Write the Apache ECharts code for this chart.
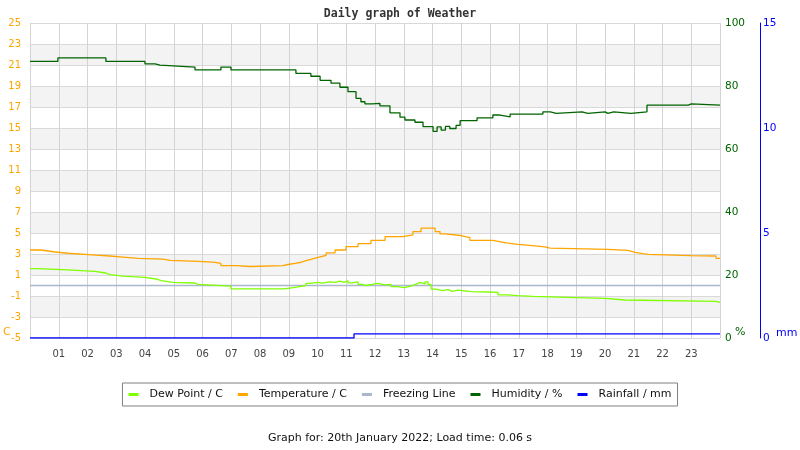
<!DOCTYPE html>
<html><head><meta charset="utf-8">
<script src="https://cdn.jsdelivr.net/npm/echarts@6/dist/echarts.min.js"></script>
<style>html,body{margin:0;padding:0;background:#fff}#c{width:800px;height:450px}</style>
</head><body><div id="c"></div>
<script>
// [hour, value]
const tempData = [[0,3.38],[0.38,3.19],[0.87,3.07],[1.32,2.9],[2.30,2.81],[2.78,2.71],[3.23,2.59],[3.76,2.52],[4.63,2.4],[4.87,2.30],[5.84,2.25],[6.19,2.21],[6.43,2.1],[6.64,1.90],[7.17,1.81],[7.65,1.90],[8.80,2.0],[8.97,2.1],[9.22,2.19],[9.39,2.36],[9.60,2.49],[9.77,2.68],[10.02,2.87],[10.30,3.1],[10.61,3.38],[10.99,3.70],[11.41,3.98],[11.86,4.3],[12.35,4.65],[12.97,4.83],[13.32,5.14],[13.60,5.46],[14.09,5.14],[14.26,4.92],[14.43,4.76],[14.99,4.57],[15.30,4.3],[16.10,4.21],[16.28,4.05],[16.56,3.92],[16.97,3.83],[17.39,3.67],[17.91,3.55],[18.09,3.45],[20.10,3.35],[20.80,3.16],[21.04,3.03],[21.32,2.97],[21.50,2.84],[22.99,2.81],[23.86,2.59],[24,2.59]];
const dewData = [[0,1.60],[0.28,1.48],[1.32,1.35],[2.26,1.19],[2.64,1.03],[2.78,0.90],[3.23,0.78],[4.0,0.62],[4.38,0.46],[4.56,0.30],[4.97,0.24],[5.74,0.11],[5.84,-0.05],[6.99,-0.33],[8.80,-0.24],[9.04,-0.14],[9.32,-0.02],[9.60,0.2],[9.74,0.3],[10.02,0.22],[10.16,0.35],[10.43,0.3],[10.61,0.42],[10.78,0.3],[10.92,0.45],[11.06,0.25],[11.2,0.35],[11.41,0.1],[11.55,0.0],[11.69,0.1],[11.9,0.2],[12.1,0.05],[12.35,0.1],[12.56,-0.11],[12.8,-0.2],[13.01,-0.05],[13.25,0.14],[13.43,0.3],[13.57,0.15],[13.74,0.35],[13.84,0.1],[13.95,-0.35],[14.12,-0.49],[14.33,-0.4],[14.54,-0.55],[14.68,-0.45],[14.89,-0.59],[15.34,-0.62],[15.93,-0.65],[16.28,-0.9],[16.63,-0.97],[16.97,-1.03],[17.50,-1.22],[20.0,-1.38],[20.70,-1.51],[23.86,-1.6],[24,-1.6]];
const freezeData = [[0,0],[24,0]];
const humData = [[0,87.8],[0.97,88.9],[2.64,87.8],[4.0,87.0],[4.35,86.6],[4.52,86.0],[5.74,85.1],[6.64,86.0],[6.99,85.1],[9.25,84.0],[9.77,83.1],[10.09,81.8],[10.47,80.9],[10.78,79.6],[11.06,78.2],[11.34,76.1],[11.51,75.0],[11.65,74.3],[11.9,74.5],[12.17,73.7],[12.52,71.5],[12.87,70.1],[13.04,69.2],[13.39,68.5],[13.67,67.1],[14.02,65.6],[14.16,67.0],[14.3,66.0],[14.45,67.2],[14.6,66.5],[14.82,67.5],[14.96,69.0],[15.55,69.9],[16.10,70.8],[16.3,70.2],[16.70,71.1],[17.84,71.8],[18.1,71.3],[18.3,71.8],[19.2,71.3],[19.4,71.8],[20.0,71.3],[20.1,71.8],[20.3,71.3],[20.9,71.8],[21.46,73.9],[22.9,74.3],[23.0,73.9],[24,73.9]];
const rainData = [[0,0],[11.27,0.2],[24,0.2]];
const hourTicks = ['01','02','03','04','05','06','07','08','09','10','11','12','13','14','15','16','17','18','19','20','21','22','23'];

const chart = echarts.init(document.getElementById('c'), null, {renderer:'canvas'});
const font = 'DejaVu Sans';
const lw = 1.3;
chart.setOption({
  animation:false,
  backgroundColor:'#fff',
  title:{text:'Daily graph of Weather',left:'center',top:3,textStyle:{fontFamily:'DejaVu Sans Mono',fontWeight:'bold',fontSize:11.5,color:'#333'}},
  legend:{
    top:383,left:'center',
    data:['Dew Point / C','Temperature / C','Freezing Line','Humidity / %','Rainfall / mm'],
    icon:'rect',itemWidth:10,itemHeight:3,itemGap:15,
    borderColor:'#808080',borderWidth:1,padding:[6,6,6,6],
    textStyle:{fontFamily:font,fontSize:11,color:'#111',padding:[0,0,0,6]}
  },
  grid:{left:30,right:80,top:23,bottom:112},
  xAxis:{type:'value',min:0,max:24,interval:1,
    axisLine:{show:false},axisTick:{show:false},
    axisLabel:{fontFamily:font,fontSize:10,color:'#444',margin:11,
      formatter:v=> (v>0&&v<24)? hourTicks[v-1] : ''},
    splitLine:{lineStyle:{color:'#d3d3d3'}}},
  yAxis:[
    {type:'value',min:-5,max:25,interval:2,position:'left',
     axisLine:{show:false},axisTick:{show:false},
     axisLabel:{fontFamily:font,fontSize:10,color:'#ffa500',margin:9},
     splitLine:{lineStyle:{color:'#d9d9d9'}},
     splitArea:{show:true,areaStyle:{color:['#ffffff','#f3f3f3']}}},
    {type:'value',min:0,max:100,interval:20,position:'right',
     axisLine:{show:false},axisTick:{show:false},
     axisLabel:{fontFamily:font,fontSize:10.5,color:'#006400',margin:5},
     splitLine:{show:false}},
    {type:'value',min:0,max:15,interval:5,position:'right',offset:40,
     axisLine:{show:true,onZero:false,lineStyle:{color:'#0000ff',width:1}},axisTick:{show:false},
     axisLabel:{fontFamily:font,fontSize:10.5,color:'#0000ff',margin:3},
     splitLine:{show:false}}
  ],
  series:[
    {name:'Freezing Line',type:'line',data:freezeData,yAxisIndex:0,symbol:'none',lineStyle:{width:lw,color:'#a9b8cc'},itemStyle:{color:'#a9b8cc'}},
    {name:'Dew Point / C',type:'line',step:'end',data:dewData,yAxisIndex:0,symbol:'none',lineStyle:{width:lw,color:'#7fff00'},itemStyle:{color:'#7fff00'}},
    {name:'Temperature / C',type:'line',step:'end',data:tempData,yAxisIndex:0,symbol:'none',lineStyle:{width:lw,color:'#ffa500'},itemStyle:{color:'#ffa500'}},
    {name:'Humidity / %',type:'line',step:'end',data:humData,yAxisIndex:1,symbol:'none',lineStyle:{width:lw,color:'#006400'},itemStyle:{color:'#006400'}},
    {name:'Rainfall / mm',type:'line',step:'end',data:rainData,yAxisIndex:2,symbol:'none',lineStyle:{width:lw,color:'#0000ff'},itemStyle:{color:'#0000ff'}}
  ],
  graphic:[
    {type:'text',left:3,top:327,style:{text:'C',fontFamily:font,fontSize:11,fill:'#ffa500'}},
    {type:'text',left:735,top:327,style:{text:'%',fontFamily:font,fontSize:11,fill:'#006400'}},
    {type:'text',left:776,top:328,style:{text:'mm',fontFamily:font,fontSize:11,fill:'#0000ff'}},
    {type:'text',left:'center',top:433,style:{text:'Graph for: 20th January 2022; Load time: 0.06 s',fontFamily:font,fontSize:11,fill:'#111'}}
  ]
});
</script></body></html>
